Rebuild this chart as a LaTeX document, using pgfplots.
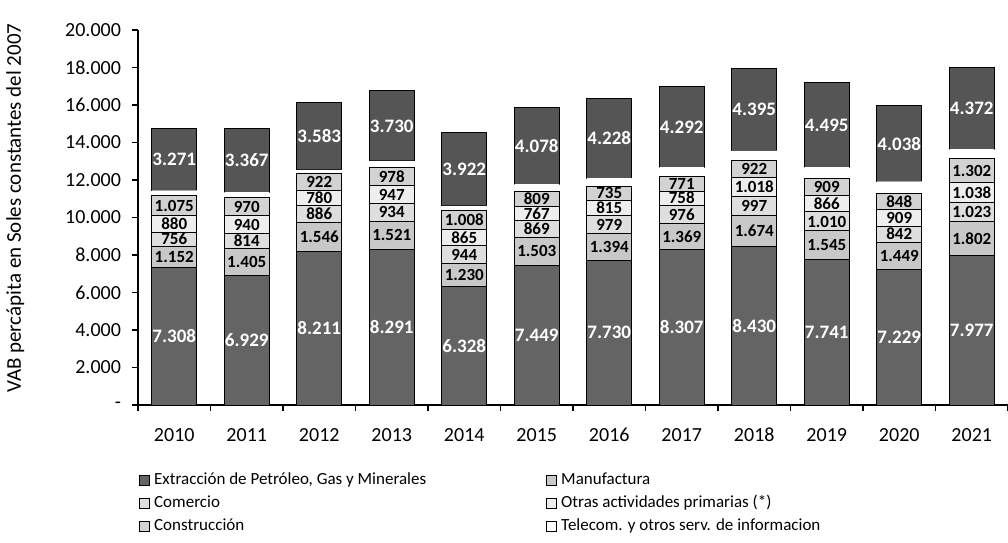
\documentclass[border=0pt]{standalone}
\usepackage{pgfplots}
\pgfplotsset{compat=1.18}
\usepackage{pgfplotstable}
\usepackage{fontspec}
\setmainfont{Carlito}
\definecolor{extc}{RGB}{100,100,100}
\definecolor{manc}{RGB}{200,200,200}
\definecolor{comc}{RGB}{222,222,222}
\definecolor{otrc}{RGB}{238,238,238}
\definecolor{conc}{RGB}{210,210,210}
\definecolor{resc}{RGB}{85,85,85}
\pgfplotstableread{
x Ext Man Com Otr Con Tel Res
0 7308 1152 756 880 1075 280 3271
1 6929 1405 814 940 970 300 3367
2 8211 1546 886 780 922 200 3583
3 8291 1521 934 947 978 350 3730
4 6328 1230 944 865 1008 250 3922
5 7449 1503 869 767 809 380 4078
6 7730 1394 979 815 735 450 4228
7 8307 1369 976 758 771 500 4292
8 8430 1674 997 1018 922 530 4395
9 7741 1545 1010 866 909 620 4495
10 7229 1449 842 909 848 650 4038
11 7977 1802 1023 1038 1302 500 4372
}\datatable
\pgfplotsset{
  midlabels/.style={
    point meta=rawy,
    nodes near coords={\pgfmathprintnumber{\pgfplotspointmeta}},
    every node near coord/.append style={
      font=\bfseries\fontsize{9.5}{9.5}\selectfont,
      inner sep=0.3pt,
      anchor=center,
    },
  },
  smalllabels/.style={
    midlabels,
    every node near coord/.append style={
      font=\bfseries\fontsize{8.5}{8.5}\selectfont,
      text height=5.6pt, text depth=0pt, inner sep=0pt,
    },
  },
}
\begin{document}
\begin{tikzpicture}
\path[use as bounding box] (0,0) rectangle (504pt,271pt);
\begin{axis}[
  at={(69pt,68.5pt)}, anchor=south west,
  scale only axis, width=435pt, height=187.5pt,
  ybar stacked, bar width=22.5pt,
  xmin=-0.5, xmax=11.5, ymin=0, ymax=20000,
  scaled y ticks=false,
  axis x line*=bottom, axis y line*=left,
  axis line style={black, line width=0.6pt},
  xtick={0,...,11},
  xticklabels={2010,2011,2012,2013,2014,2015,2016,2017,2018,2019,2020,2021},
  major x tick style={draw=none},
  minor xtick={-0.5,0.5,...,11.5},
  minor x tick style={black, line width=0.6pt},
  minor tick length=3pt,
  major tick length=3pt,
  tick align=outside,
  ytick={0,2000,...,20000},
  yticklabels={-,2.000,4.000,6.000,8.000,10.000,12.000,14.000,16.000,18.000,20.000},
  ytick style={black, line width=0.6pt},
  tick label style={font=\fontsize{10}{12}\selectfont},
  xticklabel style={yshift=-5pt},
  yticklabel style={xshift=-2pt},
  ylabel={VAB percápita en Soles constantes del 2007},
  ylabel style={at={(axis description cs:-0.141,0.525)}, anchor=center, font=\fontsize{10.5}{12}\selectfont},
  /pgf/number format/.cd, fixed, precision=0, 1000 sep={.}, assume math mode=true,
  /pgfplots/.cd,
  legend style={draw=none, at={(-0.006,-0.158)}, anchor=north west,
    font=\fontsize{8.5}{10}\selectfont, legend columns=2, row sep=0pt,
    /tikz/every even column/.append style={column sep=58pt}, legend cell align=left},
  legend image code/.code={\draw[#1] (0pt,-2.5pt) rectangle (5pt,2.5pt);},
]
\addplot[fill=extc, draw=black, line width=0.5pt, midlabels, every node near coord/.append style={text=white}] table[x=x,y=Ext]{\datatable};
\addlegendentry{Extracción de Petróleo, Gas y Minerales}
\addplot[fill=manc, draw=black, line width=0.5pt, smalllabels] table[x=x,y=Man]{\datatable};
\addlegendentry{Manufactura}
\addplot[fill=comc, draw=black, line width=0.5pt, smalllabels] table[x=x,y=Com]{\datatable};
\addlegendentry{Comercio}
\addplot[fill=otrc, draw=black, line width=0.5pt, smalllabels] table[x=x,y=Otr]{\datatable};
\addlegendentry{Otras actividades primarias (*)}
\addplot[fill=conc, draw=black, line width=0.5pt, smalllabels] table[x=x,y=Con]{\datatable};
\addlegendentry{Construcción}
\addplot[fill=white, draw=none] table[x=x,y=Tel]{\datatable};
\addlegendentry{Telecom. y otros serv. de informacion}
\addplot[fill=resc, draw=black, line width=0.5pt, midlabels, every node near coord/.append style={text=white}, forget plot] table[x=x,y=Res]{\datatable};
\end{axis}
\end{tikzpicture}
\end{document}
